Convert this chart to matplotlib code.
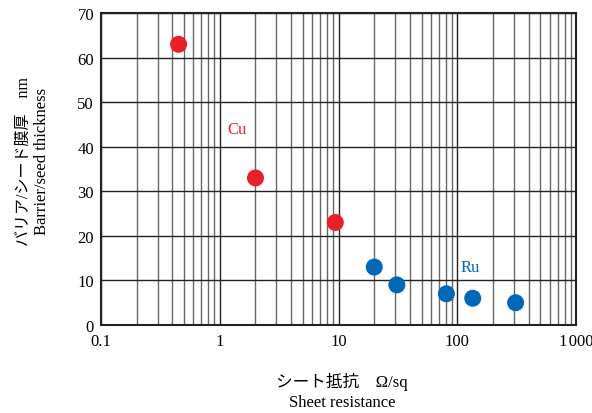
import numpy as np
import matplotlib.pyplot as plt
from matplotlib.ticker import FixedLocator, FixedFormatter, NullFormatter

plt.rcParams['font.family'] = ['Liberation Serif', 'Noto Sans CJK JP']

# --- Données ---
cu_res = [0.45, 2.0, 9.4]
cu_thk = [63, 33, 23]
ru_res = [20, 31, 81, 135, 310]
ru_thk = [13, 9, 7, 6, 5]

x_ticks = [0.1, 1, 10, 100, 1000]
x_labels = ["0.1", "1", "10", "100", "1\u200a000"]
y_ticks = [0, 10, 20, 30, 40, 50, 60, 70]

RED = "#e8202a"
BLUE = "#0068b7"
FS = 12

fig = plt.figure(figsize=(5.92, 4.14), dpi=100)
ax = fig.add_axes([0.1706, 0.2126, 0.8024, 0.7534])

ax.set_xscale("log")
ax.set_xlim(0.1, 1000)
ax.set_ylim(0, 70)

minor = [m * 10.0**e for e in range(-1, 3) for m in range(2, 10)]
ax.xaxis.set_major_locator(FixedLocator(x_ticks))
ax.xaxis.set_major_formatter(FixedFormatter(x_labels))
ax.xaxis.set_minor_locator(FixedLocator(minor))
ax.xaxis.set_minor_formatter(NullFormatter())
ax.set_yticks(y_ticks)

ax.grid(True, which="major", color="#222222", linewidth=1.0)
ax.grid(True, which="minor", axis="x", color="#666666", linewidth=1.0)
ax.tick_params(which="both", length=0, labelsize=FS)
ax.tick_params(axis="x", pad=6)
ax.tick_params(axis="y", pad=5)
for s in ax.spines.values():
    s.set_linewidth(1.5)
    s.set_color("#222222")
ax.set_axisbelow(True)

ax.scatter(cu_res, cu_thk, s=150, color=RED, zorder=5, edgecolors="none")
ax.scatter(ru_res, ru_thk, s=150, color=BLUE, zorder=5, edgecolors="none")

ax.text(1.15, 44, "Cu", color=RED, fontsize=FS, ha="left", va="center")
ax.text(107, 13, "Ru", color=BLUE, fontsize=FS, ha="left", va="center")

fig.text(0.040, 0.61, "バリア/シード膜厚　nm", rotation=90, fontsize=FS - 0.5,
         ha="center", va="center")
fig.text(0.071, 0.61, "Barrier/seed thickness", rotation=90, fontsize=FS,
         ha="center", va="center")
fig.text(0.578, 0.077, "シート抵抗　Ω/sq", fontsize=FS, ha="center", va="center")
fig.text(0.578, 0.027, "Sheet resistance", fontsize=FS, ha="center", va="center")

fig.savefig("out.png", dpi=100)
